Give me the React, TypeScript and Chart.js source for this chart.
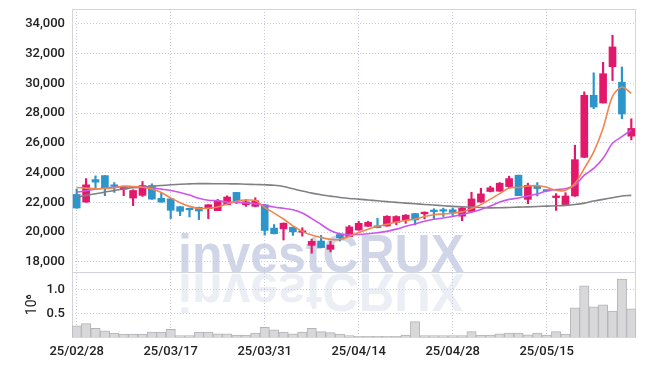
import React, { useEffect, useRef } from 'react';
import { Chart, registerables } from 'chart.js';

Chart.register(...registerables);

const dates = [
  '25/02/28', '25/03/04', '25/03/05', '25/03/06', '25/03/07', '25/03/10', '25/03/11', '25/03/12', '25/03/13', '25/03/14',
  '25/03/17', '25/03/18', '25/03/19', '25/03/20', '25/03/21', '25/03/24', '25/03/25', '25/03/26', '25/03/27', '25/03/28',
  '25/03/31', '25/04/01', '25/04/02', '25/04/03', '25/04/04', '25/04/07', '25/04/08', '25/04/09', '25/04/10', '25/04/11',
  '25/04/14', '25/04/15', '25/04/16', '25/04/17', '25/04/18', '25/04/21', '25/04/22', '25/04/23', '25/04/24', '25/04/25',
  '25/04/28', '25/04/29', '25/04/30', '25/05/02', '25/05/07', '25/05/08', '25/05/09', '25/05/12', '25/05/13', '25/05/14',
  '25/05/15', '25/05/16', '25/05/19', '25/05/20', '25/05/21', '25/05/22', '25/05/23', '25/05/26', '25/05/27', '25/05/28',
];

const openP = [
  22530, 22020, 23530, 23800, 23180, 22900, 22290, 22470, 23130, 22270,
  22240, 21710, 21530, 21670, 21580, 21440, 21840, 22670, 21840, 21730,
  21840, 20270, 20220, 20330, 19990, 19110, 19400, 18840, 19840, 19700,
  20140, 20390, 20430, 20410, 20660, 20820, 21250, 21230, 21400, 21420,
  21500, 21070, 21390, 22020, 22730, 22750, 23060, 23830, 22200, 23100,
  22780, 22320, 21840, 22430, 25030, 29200, 28680, 31120, 30080, 26450,
];
const highP = [
  22900, 23600, 23780, 23800, 23330, 23060, 22850, 23400, 23250, 22620,
  22250, 21720, 21620, 21680, 21850, 22200, 22440, 22670, 22180, 22310,
  21850, 20510, 20620, 20340, 20290, 19530, 19780, 19380, 19850, 20450,
  20730, 20730, 20930, 21100, 21100, 21180, 21250, 21360, 21570, 21610,
  21610, 21730, 22680, 22950, 23090, 23330, 23760, 23830, 23290, 23330,
  22790, 22590, 22650, 25840, 29430, 30710, 31410, 33240, 31100, 27620,
];
const lowP = [
  21600, 22000, 22960, 22450, 22670, 22450, 21780, 22400, 22200, 22000,
  20910, 21110, 21020, 20840, 20910, 21440, 21840, 21910, 21730, 21700,
  19800, 19880, 19470, 19780, 19730, 18580, 18950, 18670, 19400, 19690,
  20120, 20380, 20280, 20400, 20500, 20590, 20480, 20890, 20890, 21050,
  21110, 20770, 21380, 22000, 22700, 22740, 22970, 22450, 21910, 22430,
  22750, 21460, 21840, 22400, 25000, 28300, 28680, 30190, 27620, 26200,
];
const closeP = [
  21620, 23180, 23360, 22960, 23070, 23020, 22800, 23130, 22220, 22020,
  21470, 21400, 21500, 21420, 21840, 22110, 22360, 22090, 22040, 22110,
  20110, 19890, 20600, 20020, 20020, 19380, 18960, 19130, 19620, 20350,
  20590, 20660, 20300, 21070, 21050, 21140, 20820, 21340, 21380, 21410,
  21320, 21610, 22230, 22570, 22980, 23290, 23600, 22450, 23150, 22930,
  22760, 22430, 22430, 24870, 29200, 28410, 30650, 32450, 27940, 26970,
];
// volume in units of 10^6
const volume = [
  0.24, 0.29, 0.19, 0.14, 0.09, 0.07, 0.07, 0.07, 0.11, 0.11,
  0.17, 0.04, 0.04, 0.11, 0.11, 0.075, 0.075, 0.05, 0.05, 0.09,
  0.21, 0.16, 0.11, 0.075, 0.11, 0.19, 0.12, 0.10, 0.07, 0.04,
  0.02, 0.02, 0.02, 0.02, 0.02, 0.05, 0.33, 0.04, 0.04, 0.04,
  0.04, 0.04, 0.12, 0.05, 0.05, 0.075, 0.09, 0.09, 0.055, 0.09,
  0.05, 0.12, 0.07, 0.62, 1.08, 0.64, 0.68, 0.55, 1.22, 0.60,
];
const ma5 = [
  23000, 22960, 22910, 22930, 22980, 23100, 23070, 23020, 22900, 22660,
  22300, 21980, 21730, 21590, 21600, 21690, 21890, 22080, 22150, 22120,
  21650, 21280, 20880, 20420, 20050, 19800, 19640, 19510, 19500, 19720,
  19980, 20200, 20390, 20520, 20680, 20790, 20880, 21050, 21170, 21220,
  21270, 21360, 21580, 21850, 22220, 22590, 22970, 23000, 23100, 23120,
  23010, 22810, 22810, 23260, 24280, 25400, 26990, 29130, 29760, 29330,
];
const ma10 = [
  22690, 22780, 22890, 22960, 23020, 23040, 23020, 23020, 22980, 22890,
  22800, 22670, 22490, 22270, 22140, 22110, 22020, 22000, 21960, 21910,
  21800, 21690, 21600, 21510, 21290, 20910, 20510, 20110, 19880, 19820,
  19840, 19890, 19960, 20050, 20200, 20390, 20550, 20730, 20860, 20950,
  21050, 21180, 21340, 21520, 21760, 22020, 22200, 22290, 22430, 22560,
  22770, 22860, 22920, 23150, 23830, 24280, 24960, 25970, 26420, 26870,
];
const ma60 = [
  22360, 22470, 22580, 22690, 22800, 22890, 22980, 23020, 23090, 23130,
  23180, 23220, 23240, 23260, 23260, 23250, 23250, 23240, 23220, 23200,
  23180, 23150, 23070, 22910, 22760, 22620, 22510, 22420, 22330, 22260,
  22220, 22160, 22110, 22050, 22000, 21950, 21910, 21860, 21820, 21770,
  21730, 21700, 21680, 21660, 21630, 21640, 21660, 21680, 21700, 21720,
  21750, 21770, 21800, 21860, 21950, 22090, 22200, 22310, 22430, 22470,
];
const priceTicks = [18000, 20000, 22000, 24000, 26000, 28000, 30000, 32000, 34000];
const volumeTicks = [0.5, 1.0];

const UP = '#e2196b';
const DOWN = '#2c95c9';
const GRID = '#c9cbdb';
const FRAME = '#d3d4dc';
const TEXT = '#222222';
const FONT = "Roboto, 'Liberation Sans', Arial, sans-serif";

const watermark = {
  id: 'watermark',
  beforeDraw(chart: any) {
    const { ctx, chartArea } = chart;
    const yp = chart.scales.yp;
    if (!chartArea || !yp) return;
    ctx.save();
    ctx.font = "bold 53px 'Liberation Sans', Arial, sans-serif";
    ctx.textBaseline = 'alphabetic';
    const text = 'investCRUX';
    const w = ctx.measureText(text).width;
    const sx = 286 / w;
    ctx.translate(chartArea.left + 106, yp.bottom);
    ctx.scale(sx, 1);
    ctx.fillStyle = '#d0d6e7';
    ctx.fillText(text, 0, 0);
    ctx.scale(1, -1);
    ctx.fillStyle = '#eceef5';
    ctx.fillText(text, 0, -2);
    ctx.restore();
  },
};

const frame = {
  id: 'frame',
  beforeDatasetsDraw(chart: any) {
    const { ctx, chartArea } = chart;
    const yp = chart.scales.yp;
    ctx.save();
    ctx.strokeStyle = FRAME;
    ctx.lineWidth = 1;
    ctx.strokeRect(chartArea.left + 0.5, chartArea.top + 0.5, chartArea.right - chartArea.left - 1, chartArea.bottom - chartArea.top - 0.5);
    ctx.beginPath();
    ctx.moveTo(chartArea.left, Math.round(yp.bottom) + 0.5);
    ctx.lineTo(chartArea.right, Math.round(yp.bottom) + 0.5);
    ctx.stroke();
    ctx.restore();
  },
};

const zeroPad = (s: any) => {
  s.paddingTop = 0;
  s.paddingBottom = 0;
  s.paddingLeft = 0;
  s.paddingRight = 0;
};

export default function App() {
  const ref = useRef<HTMLCanvasElement>(null);

  useEffect(() => {
    if (!ref.current) return;
    const colors = openP.map((o, i) => (closeP[i] >= o ? UP : DOWN));
    const tickFont = { family: FONT, size: 13, weight: 500 };

    const chart = new Chart(ref.current, {
      type: 'bar',
      data: {
        labels: dates,
        datasets: [
          {
            type: 'line', label: 'MA5', data: ma5, yAxisID: 'yp', borderColor: '#ee8650',
            borderWidth: 1.6, pointRadius: 0, tension: 0.3, order: 0,
          },
          {
            type: 'line', label: 'MA10', data: ma10, yAxisID: 'yp', borderColor: '#cc55ec',
            borderWidth: 1.6, pointRadius: 0, tension: 0.3, order: 0,
          },
          {
            type: 'line', label: 'MA60', data: ma60, yAxisID: 'yp', borderColor: '#808080',
            borderWidth: 1.6, pointRadius: 0, tension: 0.3, order: 0,
          },
          {
            type: 'bar', label: 'body', data: openP.map((o, i) => [o, closeP[i]]), yAxisID: 'yp',
            backgroundColor: colors, barThickness: 7, grouped: false, minBarLength: 1.5, order: 1,
          },
          {
            type: 'bar', label: 'wick', data: lowP.map((l, i) => [l, highP[i]]), yAxisID: 'yp',
            backgroundColor: colors, barThickness: 1.5, grouped: false, order: 2,
          },
          {
            type: 'bar', label: 'volume', data: volume, yAxisID: 'yv',
            backgroundColor: '#d8d8da', borderColor: '#b4b4b8', borderWidth: 1,
            barPercentage: 1, categoryPercentage: 1, grouped: false, order: 3,
          },
        ] as any,
      },
      options: {
        animation: false,
        responsive: true,
        maintainAspectRatio: false,
        layout: { padding: { top: 1, right: 1, left: 0, bottom: 0 } },
        plugins: { legend: { display: false }, tooltip: { enabled: false } },
        scales: {
          x: {
            type: 'category',
            offset: true,
            afterFit: zeroPad,
            grid: { offset: false, color: GRID, drawTicks: false },
            border: { display: false, dash: [1, 2] },
            ticks: {
              autoSkip: false, maxRotation: 0, padding: 7, font: tickFont, color: TEXT,
              callback: (_v: any, i: number) => (i % 10 === 0 ? dates[i] : null),
            },
          },
          yv: {
            type: 'linear', position: 'left', stack: 'main', stackWeight: 1,
            min: 0, max: 1.37,
            afterBuildTicks: (s: any) => { s.ticks = volumeTicks.map((v) => ({ value: v })); },
            afterFit: (s: any) => { s.width = 64; zeroPad(s); },
            grid: { color: GRID, drawTicks: false },
            border: { display: false, dash: [1, 2] },
            ticks: { autoSkip: false, padding: 7, font: tickFont, color: TEXT, callback: (v: any) => Number(v).toFixed(1) },
            title: { display: true, text: '10⁶', font: { family: FONT, size: 14 }, color: TEXT, padding: { top: 16, bottom: 0 } },
          },
          yp: {
            type: 'linear', position: 'left', stack: 'main', stackWeight: 4.02,
            min: 17320, max: 35000,
            afterBuildTicks: (s: any) => { s.ticks = priceTicks.map((v) => ({ value: v })); },
            afterFit: (s: any) => { s.width = 64; zeroPad(s); },
            grid: { color: GRID, drawTicks: false },
            border: { display: false, dash: [1, 2] },
            ticks: { autoSkip: false, padding: 7, font: tickFont, color: TEXT, callback: (v: any) => Number(v).toLocaleString('en-US') },
          },
        } as any,
      },
      plugins: [watermark, frame],
    });
    return () => chart.destroy();
  }, []);

  return (
    <div style={{ position: 'relative', width: 629, height: 359 }}>
      <canvas ref={ref} />
    </div>
  );
}
